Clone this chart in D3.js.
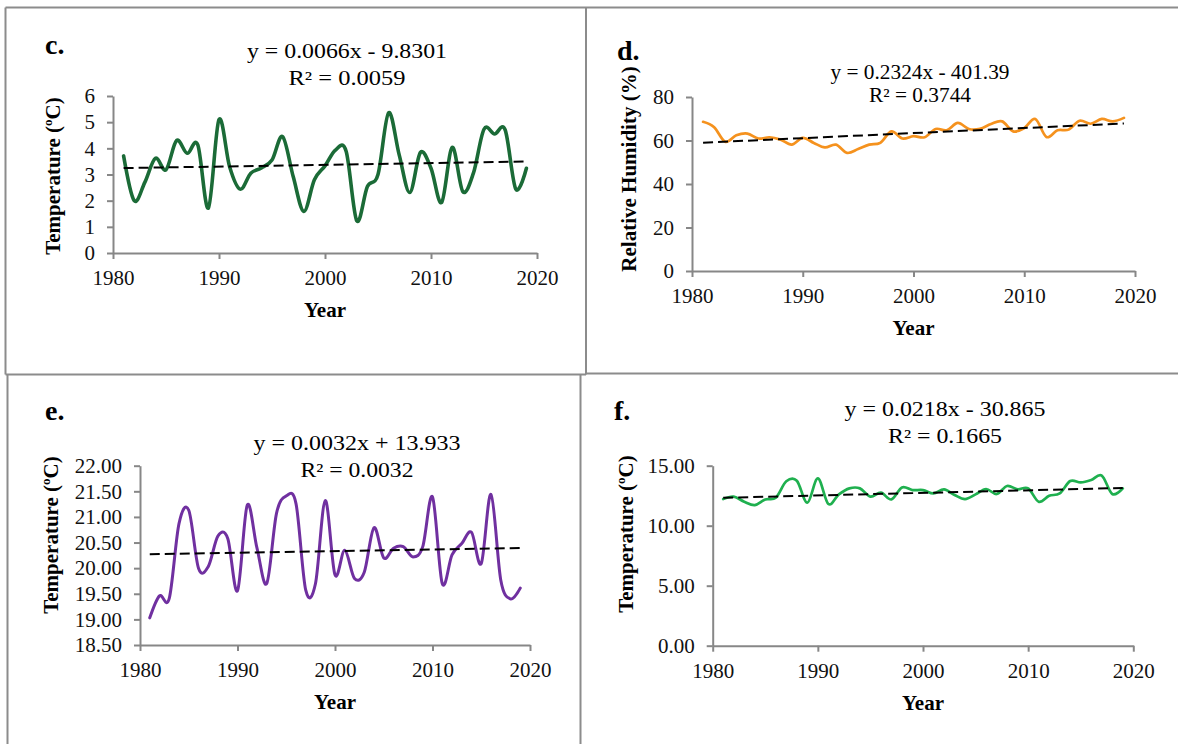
<!DOCTYPE html>
<html>
<head>
<meta charset="utf-8">
<script src="https://cdn.jsdelivr.net/npm/d3@7"></script>
<style>
body { margin: 0; background: #fff; }
text { font-family: "Liberation Serif", "Times New Roman", serif; }
</style>
</head>
<body>
<svg id="fig" width="1178" height="744"></svg>
<script>
// data
const years = [1981,1982,1983,1984,1985,1986,1987,1988,1989,1990,
  1991,1992,1993,1994,1995,1996,1997,1998,1999,2000,
  2001,2002,2003,2004,2005,2006,2007,2008,2009,2010,
  2011,2012,2013,2014,2015,2016,2017,2018,2019]
const xTicks = [1980, 1990, 2000, 2010, 2020]

const tempC = [3.71,2.0,2.7,3.62,3.18,4.3,3.81,4.13,1.72,5.1,
  3.3,2.44,3.05,3.25,3.55,4.45,2.92,1.59,2.8,3.33,
  3.94,3.88,1.23,2.54,3.0,5.36,3.75,2.31,3.84,3.24,
  1.93,4.04,2.35,3.05,4.73,4.55,4.7,2.44,3.24]
const humidD = [68.6,66.1,59.4,62.4,63.2,60.9,61.5,60.4,58.1,61.2,
  58.9,56.8,58.1,54.3,56.1,58.1,58.9,64.2,60.9,62.0,
  61.5,65.3,64.7,68.1,65.3,65.4,67.6,68.8,64.2,65.7,
  69.9,61.6,64.7,65.0,69.1,67.7,69.9,68.8,70.4]
const tempE = [19.03,19.46,19.41,20.87,21.13,20.0,20.03,20.63,20.58,19.56,
  21.23,20.39,19.70,21.07,21.41,21.26,19.57,19.70,21.32,19.87,
  20.35,19.80,19.92,20.79,20.20,20.39,20.42,20.22,20.42,21.39,
  19.70,20.26,20.48,20.70,20.09,21.44,19.77,19.40,19.61]
const tempF = [12.22,12.42,12.0,11.72,12.19,12.33,13.7,13.75,11.92,13.94,
  11.81,12.61,13.11,13.11,12.42,12.75,12.19,13.19,12.97,12.97,
  12.69,13.03,12.56,12.22,12.61,13.06,12.64,13.31,13.03,13.11,
  12.0,12.5,12.69,13.72,13.61,13.81,14.17,12.64,13.11]

// trend lines: slope, intercept (as printed)
const trendC = [0.0066, -9.8301]
const trendD = [0.2324, -401.39]
const trendE = [0.0032, 13.933]
const trendF = [0.0218, -30.865]

const eqC = ["y = 0.0066x - 9.8301", "R² = 0.0059"]
const eqD = ["y = 0.2324x - 401.39", "R² = 0.3744"]
const eqE = ["y = 0.0032x + 13.933", "R² = 0.0032"]
const eqF = ["y = 0.0218x - 30.865", "R² = 0.1665"]

const ticksC = [0,1,2,3,4,5,6]
const ticksD = [0,20,40,60,80]
const ticksE = [18.5,19,19.5,20,20.5,21,21.5,22]
const ticksF = [0,5,10,15]

const svg = d3.select("#fig")
const grey = "#878787"

// panel frames
const frame = [
  [5.5,7.5,1178,7.5],[5.5,7.5,5.5,374.5],[586,7.5,586,374.5],
  [5.5,374.5,586,374.5],[586,373.5,1178,373.5],
  [7.5,375,7.5,744],[580.5,374,580.5,744]
]
svg.selectAll("line.frame").data(frame).enter().append("line")
  .attr("class","frame")
  .attr("x1",d=>d[0]).attr("y1",d=>d[1]).attr("x2",d=>d[2]).attr("y2",d=>d[3])
  .attr("stroke","#8c8c8c").attr("stroke-width",2)

const panels = [
  {letter:"c.", values:tempC, trend:trendC, eq:eqC, yTicks:ticksC, fmt:d3.format("d"),
   left:113, right:537, top:96, bottom:253, color:"#1b6b37", width:3.6,
   letterPos:[45,54], eqX:347, eqY:[58,85], eqW:[200,117],
   yTitle:"Temperature", unit:"C", yTitlePos:[60,176]},
  {letter:"d.", values:humidD, trend:trendD, eq:eqD, yTicks:ticksD, fmt:d3.format("d"),
   left:692, right:1135, top:97, bottom:271, color:"#f5921e", width:2.7,
   letterPos:[617,60], eqX:920, eqY:[79,102], eqW:[179,102],
   yTitle:"Relative Humidity (%)", unit:null, yTitlePos:[636,169]},
  {letter:"e.", values:tempE, trend:trendE, eq:eqE, yTicks:ticksE, fmt:d3.format(".2f"),
   left:140, right:530, top:465.7, bottom:645, color:"#7030a0", width:3,
   letterPos:[45,420], eqX:357, eqY:[450,477], eqW:[207,113],
   yTitle:"Temperature", unit:"C", yTitlePos:[58,535]},
  {letter:"f.", values:tempF, trend:trendF, eq:eqF, yTicks:ticksF, fmt:d3.format(".2f"),
   left:712.7, right:1133.3, top:465.7, bottom:645.7, color:"#1fb04f", width:2.7,
   letterPos:[614,420], eqX:945, eqY:[416,443], eqW:[201,114],
   yTitle:"Temperature", unit:"C", yTitlePos:[633,534]}
]

panels.forEach(p => {
  const x = d3.scaleLinear().domain([1980, 2020]).range([p.left, p.right])
  const y = d3.scaleLinear().domain([p.yTicks[0], p.yTicks[p.yTicks.length-1]]).range([p.bottom, p.top])
  const g = svg.append("g")

  const xAxis = g.append("g").attr("transform",`translate(0,${p.bottom})`)
    .call(d3.axisBottom(x).tickValues(xTicks).tickFormat(d3.format("d")).tickSize(6).tickSizeOuter(0).tickPadding(11))
  const yAxis = g.append("g").attr("transform",`translate(${p.left},0)`)
    .call(d3.axisLeft(y).tickValues(p.yTicks).tickFormat(p.fmt).tickSize(6).tickSizeOuter(0).tickPadding(12))
  ;[xAxis, yAxis].forEach(a => {
    a.attr("font-family",'"Liberation Serif", "Times New Roman", serif').attr("font-size",21)
    a.selectAll("path,line").attr("stroke",grey).attr("stroke-width",2)
    a.selectAll("text").attr("fill","#111")
  })

  const line = d3.line().x((d,i)=>x(years[i])).y(d=>y(d)).curve(d3.curveCardinal.tension(0))
  g.append("path").datum(p.values).attr("d",line)
    .attr("fill","none").attr("stroke",p.color).attr("stroke-width",p.width)
    .attr("stroke-linejoin","round").attr("stroke-linecap","round")

  const ends = [years[0], years[years.length-1]]
  g.append("path").datum(ends)
    .attr("d", d3.line().x(d=>x(d)).y(d=>y(p.trend[0]*d + p.trend[1])))
    .attr("fill","none").attr("stroke","#000").attr("stroke-width",2)
    .attr("stroke-dasharray","10,5")

  g.append("text").attr("x",p.letterPos[0]).attr("y",p.letterPos[1])
    .attr("font-size",28).attr("font-weight","bold").text(p.letter)

  p.eq.forEach((s,i) => {
    g.append("text").attr("x",p.eqX).attr("y",p.eqY[i])
      .attr("text-anchor","middle").attr("font-size",20)
      .attr("textLength",p.eqW[i]).attr("lengthAdjust","spacingAndGlyphs")
      .text(s)
  })

  g.append("text").attr("x",(p.left+p.right)/2).attr("y",p.bottom+64)
    .attr("text-anchor","middle").attr("font-size",21).attr("font-weight","bold").text("Year")

  const yt = g.append("text")
    .attr("transform",`translate(${p.yTitlePos[0]},${p.yTitlePos[1]}) rotate(-90)`)
    .attr("text-anchor","middle").attr("font-size",21).attr("font-weight","bold")
  if (p.unit) {
    yt.append("tspan").text(p.yTitle + " (")
    yt.append("tspan").attr("font-size",13).attr("dy",-8).text("o")
    yt.append("tspan").attr("dy",8).text(p.unit + ")")
  } else {
    yt.text(p.yTitle)
  }
})
</script>
</body>
</html>
